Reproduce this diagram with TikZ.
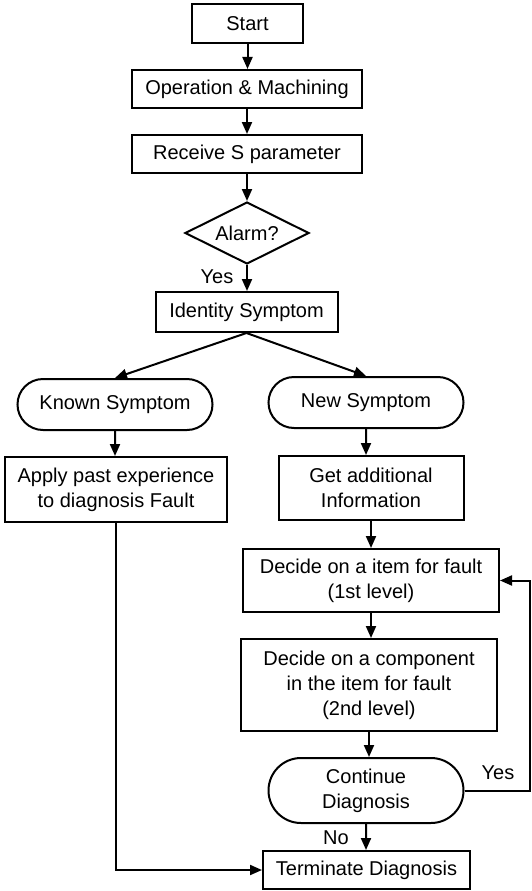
\documentclass[tikz,border=0pt]{standalone}
\usepackage{fontspec}
\setmainfont{Liberation Sans}
\usetikzlibrary{arrows.meta,shapes.geometric,shapes.misc}
\begin{document}
\begin{tikzpicture}[x=1pt,y=-1pt,
  every node/.style={font=\fontsize{20}{25}\selectfont, align=center, inner sep=0pt},
  box/.style={draw, line width=2pt, rectangle},
  stadium/.style={draw, line width=2pt, rounded rectangle},
  decision/.style={draw, line width=2pt, diamond, aspect=2},
  arr/.style={line width=2pt, -{Triangle[length=12pt,width=10pt]}},
  lbl/.style={font=\fontsize{20}{25}\selectfont}]
\useasboundingbox (0,0) rectangle (532,891);

\node[box, minimum width=111pt, minimum height=39pt] (start) at (247.5,23.5) {Start};
\node[box, minimum width=230pt, minimum height=38pt] (op) at (247,89) {Operation \& Machining};
\node[box, minimum width=230pt, minimum height=38pt] (rec) at (247,154) {Receive S parameter};
\node[decision, minimum width=124pt, minimum height=62pt] (alarm) at (247,233) {Alarm?};
\node[box, minimum width=182pt, minimum height=40pt] (ident) at (246.5,312) {Identity Symptom};
\node[stadium, minimum width=195pt, minimum height=51pt] (known) at (115,404.5) {Known Symptom};
\node[stadium, minimum width=195pt, minimum height=51pt] (new) at (366,402.5) {New Symptom};
\node[box, minimum width=222pt, minimum height=65pt] (apply) at (116,489.5) {Apply past experience\\to diagnosis Fault};
\node[box, minimum width=185pt, minimum height=64pt] (get) at (371,488) {Get additional\\Information};
\node[box, minimum width=256pt, minimum height=63pt] (dec1) at (371,580.5) {Decide on a item for fault\\(1st level)};
\node[box, minimum width=256pt, minimum height=92pt] (dec2) at (369,685) {Decide on a component\\in the item for fault\\(2nd level)};
\node[stadium, minimum width=195pt, minimum height=65pt] (cont) at (366,790.5) {Continue\\Diagnosis};
\node[box, minimum width=207pt, minimum height=38pt] (term) at (366.5,870) {Terminate Diagnosis};

\coordinate (rloop) at (530,790.5);

\draw[arr] (start) -- (start |- op.north);
\draw[arr] (op) -- (op |- rec.north);
\draw[arr] (rec) -- (rec |- alarm.north);
\draw[arr] (alarm) -- (alarm |- ident.north);
\node[lbl] (yes1) at (217,277) {Yes};
\draw[arr] (ident.south) -- (known.north);
\draw[arr] (ident.south) -- (new.north);
\draw[arr] (known) -- (known |- apply.north);
\draw[arr] (new) -- (new |- get.north);
\draw[arr] (get) -- (get |- dec1.north);
\draw[arr] (dec1) -- (dec1 |- dec2.north);
\draw[arr] (dec2) -- (dec2 |- cont.north);
\draw[arr] (cont) -- (cont |- term.north);
\node[lbl] (no) at (336,838) {No};
\draw[arr] (cont.east) -- (rloop) |- (dec1.east);
\node[lbl] (yes2) at (498,773) {Yes};
\draw[arr] (apply.south) |- (term.west);
\end{tikzpicture}
\end{document}
